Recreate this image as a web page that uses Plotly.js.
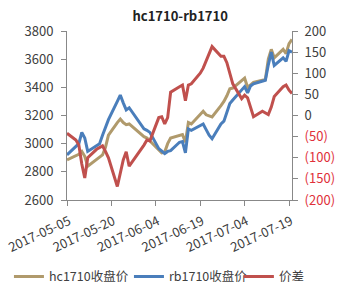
<!DOCTYPE html>
<html>
<head>
<meta charset="utf-8">
<script src="https://cdn.plot.ly/plotly-3.0.1.min.js"></script>
<style>html,body{margin:0;padding:0;background:#fff;}#chart{width:340px;height:293px;}</style>
</head>
<body>
<div id="chart"></div>
<script>
var dates = ['2017-05-05','2017-05-08','2017-05-09','2017-05-10','2017-05-11','2017-05-12',
 '2017-05-15','2017-05-16','2017-05-17','2017-05-18','2017-05-19',
 '2017-05-22','2017-05-23','2017-05-24','2017-05-25','2017-05-26',
 '2017-05-31','2017-06-01','2017-06-02',
 '2017-06-05','2017-06-06','2017-06-07','2017-06-08','2017-06-09',
 '2017-06-12','2017-06-13','2017-06-14','2017-06-15','2017-06-16',
 '2017-06-19','2017-06-20','2017-06-21','2017-06-22','2017-06-23',
 '2017-06-26','2017-06-27','2017-06-28','2017-06-29','2017-06-30',
 '2017-07-03','2017-07-04','2017-07-05','2017-07-06','2017-07-07',
 '2017-07-10','2017-07-11','2017-07-12','2017-07-13','2017-07-14',
 '2017-07-17','2017-07-18','2017-07-19','2017-07-20'];

var hcClose = [2885,2915,2925,2945,2910,2840,
 2890,2910,2920,2975,3060,
 3150,3175,3150,3135,3140,
 3050,3040,3020,
 2960,2935,2940,3000,3040,
 3060,3065,3010,3150,3140,
 3210,3230,3205,3195,3190,
 3270,3300,3340,3390,3395,
 3445,3465,3400,3420,3435,
 3450,3455,3600,3670,3610,
 3670,3640,3710,3740];

var rbClose = [2920,2975,3000,3080,3040,2945,
 2985,3000,3060,3110,3170,
 3300,3345,3290,3240,3255,
 3105,3095,3080,
 2965,2945,2930,2945,2950,
 3010,3015,2935,3105,3095,
 3125,3140,3100,3060,3035,
 3140,3160,3230,3285,3310,
 3380,3405,3360,3410,3425,
 3440,3450,3560,3650,3555,
 3610,3585,3660,3650];

var spread = [-42,-58,-70,-115,-148,-100,
 -80,-75,-72,-85,-100,
 -168,-140,-105,-86,-120,
 -70,-58,-60,
 -5,-3,-20,-5,55,
 68,72,35,72,75,
 100,112,130,145,163,
 140,140,125,100,75,
 40,48,42,20,-3,
 10,6,2,20,45,
 68,72,60,52];

var names = ['hc1710收盘价','rb1710收盘价','价差'];
var xTickVals = ['2017-05-05','2017-05-20','2017-06-04','2017-06-19','2017-07-04','2017-07-19'];
var xTickText = ['2017-05-05','2017-05-20','2017-06-04','2017-06-19','2017-07-04','2017-07-19'];
var y2TickVals = [-200,-150,-100,-50,0,50,100,150,200];
var y2TickText = y2TickVals.map(function(v){
  return v < 0 ? '<span style="color:#E0303A">(' + Math.abs(v) + ')</span>' : String(v);
});

var fontFam = '"Noto Sans CJK SC", "Open Sans", sans-serif';
var traces = [
  {x: dates, y: hcClose, name: names[0], type: 'scatter', mode: 'lines',
   line: {color: '#B09A6C', width: 3}, legend: 'legend'},
  {x: dates, y: rbClose, name: names[1], type: 'scatter', mode: 'lines',
   line: {color: '#4A7EBB', width: 3}, legend: 'legend'},
  {x: dates, y: spread, name: names[2], type: 'scatter', mode: 'lines', yaxis: 'y2',
   line: {color: '#C0504D', width: 3}, legend: 'legend2'}
];

var legendBase = {orientation: 'h', xanchor: 'left', y: -0.455, yanchor: 'middle',
  font: {size: 12.5, color: '#404040'}, bgcolor: 'rgba(0,0,0,0)'};

var layout = {
  width: 340, height: 293,
  margin: {l: 67, r: 48, t: 31, b: 93, autoexpand: false},
  paper_bgcolor: '#fff', plot_bgcolor: '#fff',
  font: {family: fontFam, size: 13, color: '#404040'},
  title: {text: '<b>hc1710-rb1710</b>', font: {size: 13, color: '#222', family: fontFam},
          x: 0.53, xanchor: 'center', y: 0.945, yanchor: 'middle'},
  showlegend: true,
  legend: Object.assign({}, legendBase, {x: -0.258, entrywidth: 75, entrywidthmode: 'pixels'}),
  legend2: Object.assign({}, legendBase, {x: 0.764}),
  xaxis: {type: 'date', range: ['2017-05-05','2017-07-20'], tickvals: xTickVals, ticktext: xTickText,
          tickangle: -25, showgrid: false, zeroline: false, showline: true, linecolor: '#888',
          linewidth: 1, ticks: 'outside', ticklen: 5, tickcolor: '#888',
          ticklabelstandoff: 3, ticklabelshift: 2, automargin: false,
          tickfont: {size: 13, color: '#404040'}, fixedrange: true},
  yaxis: {range: [2600, 3800], dtick: 200, tick0: 2600, showgrid: false, zeroline: false,
          showline: true, linecolor: '#888', ticks: 'outside', ticklen: 5, tickcolor: '#888',
          ticklabelstandoff: 5,
          tickfont: {size: 13, color: '#404040'}, tickformat: 'd', automargin: false},
  yaxis2: {overlaying: 'y', side: 'right', range: [-200, 200], tickvals: y2TickVals, ticktext: y2TickText,
           showgrid: false, zeroline: false, showline: true, linecolor: '#888', ticks: 'outside',
           ticklabelstandoff: 4,
           ticklen: 5, tickcolor: '#888', tickfont: {size: 13, color: '#404040'}, automargin: false}
};

Plotly.newPlot('chart', traces, layout, {displayModeBar: false, staticPlot: true});
</script>
</body>
</html>
